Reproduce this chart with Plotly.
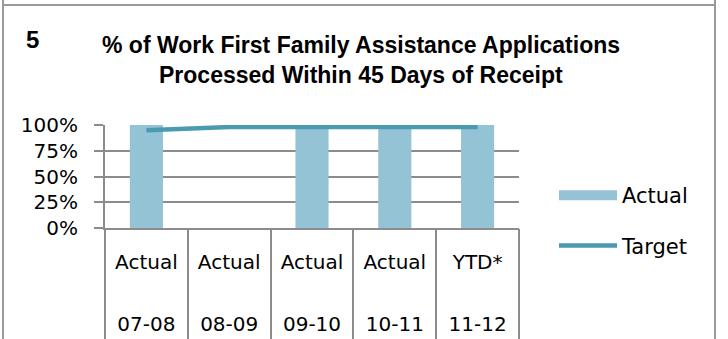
import plotly.graph_objects as go

# ---- data ----
periods = ["07-08", "08-09", "09-10", "10-11", "11-12"]
row_labels = ["Actual", "Actual", "Actual", "Actual", "YTD*"]
actual_values = [100, None, 100, 100, 100]
target_values = [95, 98, 98, 98, 98]
series_names = ["Actual", "Target"]
y_ticks = [0, 25, 50, 75, 100]
title_lines = ["% of Work First Family Assistance Applications",
               "Processed Within 45 Days of Receipt"]
chart_number = "5"

# ---- geometry / style ----
W, H = 728, 339
L, R, T, B = 105, 519, 125, 228
BAR_COLOR = "#93C3D5"
LINE_COLOR = "#4A9AB1"
GRID = "#8C8C8C"
FONT = "DejaVu Sans"


def fx(px):
    return (px - L) / (R - L)


def fy(py):
    return (B - py) / (B - T)


fig = go.Figure()
fig.add_trace(go.Bar(x=periods, y=actual_values, name=series_names[0],
                     marker=dict(color=BAR_COLOR, line=dict(width=0)),
                     showlegend=False, xaxis="x", yaxis="y"))
# legend proxy for the bar series (wide rectangle symbol)
fig.add_trace(go.Scatter(x=[None], y=[None], mode="lines", name=series_names[0],
                         line=dict(color=BAR_COLOR, width=15), legendgroup="a"))
fig.add_trace(go.Scatter(x=periods, y=target_values, mode="lines", name=series_names[1],
                         line=dict(color=LINE_COLOR, width=4.5), legendgroup="b",
                         xaxis="x2", yaxis="y"))
# carrier for the second row of category labels
fig.add_trace(go.Scatter(x=periods, y=[None] * len(periods), mode="lines",
                         showlegend=False, hoverinfo="skip", xaxis="x3", yaxis="y"))

fig.update_layout(
    width=W, height=H,
    margin=dict(l=L, r=W - R, t=T, b=H - B, pad=0, autoexpand=False),
    paper_bgcolor="white", plot_bgcolor="white",
    bargap=0.6,
    font=dict(family=FONT, size=20, color="#000000"),
    xaxis=dict(type="category", categoryorder="array", categoryarray=periods,
               range=[-0.5, 4.5], tickmode="array", tickvals=periods, ticktext=row_labels,
               ticks="", showgrid=False, zeroline=False,
               showline=True, linecolor=GRID, linewidth=2,
               tickfont=dict(family=FONT, size=20), ticklabelstandoff=15),
    xaxis2=dict(type="category", categoryorder="array", categoryarray=periods,
                range=[-0.5, 4.5], overlaying="x", anchor="y", side="bottom",
                tickson="boundaries", ticks="outside", ticklen=118, tickwidth=2,
                tickcolor=GRID, showticklabels=False, showgrid=False,
                zeroline=False, showline=False),
    xaxis3=dict(type="category", categoryorder="array", categoryarray=periods,
                range=[-0.5, 4.5], overlaying="x", anchor="y", side="bottom",
                tickmode="array", tickvals=periods, ticktext=periods,
                ticks="", showgrid=False, zeroline=False, showline=False,
                tickfont=dict(family=FONT, size=20), ticklabelstandoff=82),
    yaxis=dict(range=[0, 100], tickmode="array", tickvals=y_ticks,
               ticktext=[f"{v}%" for v in y_ticks],
               ticks="outside", ticklen=9, tickwidth=2, tickcolor=GRID,
               showgrid=True, gridcolor=GRID, gridwidth=2,
               showline=True, linecolor=GRID, linewidth=2, zeroline=False,
               tickfont=dict(family=FONT, size=20), ticklabelstandoff=12),
    legend=dict(x=fx(554), y=fy(175), xanchor="left", yanchor="top",
                font=dict(family=FONT, size=21), itemwidth=58,
                tracegroupgap=20, bgcolor="rgba(0,0,0,0)"),
    showlegend=True,
)

# title and chart number
fig.add_annotation(text=f"<b>{title_lines[0]}</b>", x=fx(361), y=fy(45),
                   xref="paper", yref="paper", showarrow=False,
                   xanchor="center", yanchor="middle",
                   font=dict(family="Liberation Sans", size=23, color="#000000"))
fig.add_annotation(text=f"<b>{title_lines[1]}</b>", x=fx(361), y=fy(75),
                   xref="paper", yref="paper", showarrow=False,
                   xanchor="center", yanchor="middle",
                   font=dict(family="Liberation Sans", size=23, color="#000000"))
fig.add_annotation(text=f"<b>{chart_number}</b>", x=fx(32), y=fy(40),
                   xref="paper", yref="paper", showarrow=False,
                   xanchor="center", yanchor="middle",
                   font=dict(family="Liberation Sans", size=24, color="#000000"))

# outer frame (table-cell borders)
frame = dict(color="#9A9A9A", width=2)
fig.add_shape(type="line", xref="paper", yref="paper", x0=fx(3), x1=fx(3),
              y0=fy(0), y1=fy(H), line=frame)
fig.add_shape(type="line", xref="paper", yref="paper", x0=fx(715), x1=fx(715),
              y0=fy(0), y1=fy(H), line=frame)
fig.add_shape(type="line", xref="paper", yref="paper", x0=fx(3), x1=fx(715),
              y0=fy(5), y1=fy(5), line=frame)

fig.write_html("out.html",
               config={"displayModeBar": False, "staticPlot": True},
               post_script="document.body.style.margin='0';"
                           "document.body.style.overflow='hidden';")
